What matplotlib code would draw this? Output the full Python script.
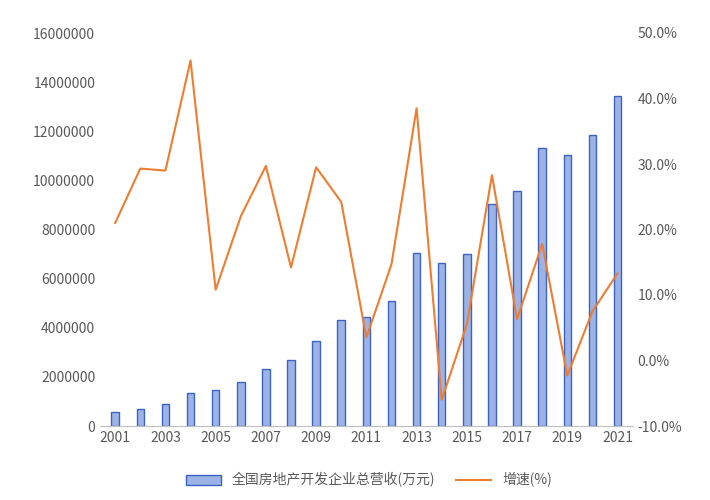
import matplotlib
matplotlib.use("Agg")
import matplotlib.pyplot as plt
from matplotlib.ticker import FuncFormatter

plt.rcParams['font.family'] = ['Noto Sans CJK SC']

years = list(range(2001, 2022))
revenue = [550000, 700000, 900000, 1350000, 1480000, 1800000, 2330000, 2680000, 3460000, 4300000,
           4430000, 5100000, 7050000, 6630000, 7000000, 9020000, 9580000, 11300000, 11020000, 11850000, 13450000]
growth = [21.0, 29.3, 29.0, 45.8, 10.8, 22.0, 29.7, 14.2, 29.5, 24.2,
          3.5, 14.7, 38.5, -6.0, 5.5, 28.3, 6.3, 17.8, -2.3, 7.5, 13.3]
bar_label = "全国房地产开发企业总营收(万元)"
line_label = "增速(%)"

fig = plt.figure(figsize=(7.1, 5.0), dpi=100)
ax = fig.add_axes([0.141, 0.148, 0.75, 0.786])
ax2 = ax.twinx()
bars = ax.bar(years, revenue, width=0.3, color="#9db3e6", edgecolor="#3a63c4", linewidth=1.0, label=bar_label, zorder=2)
ln, = ax2.plot(years, growth, color="#ed7d31", linewidth=1.5, label=line_label, zorder=3)
ax.set_zorder(1); ax2.set_zorder(2); ax2.patch.set_visible(False)

ax.set_ylim(0, 16000000)
ax.set_yticks(range(0, 16000001, 2000000))
ax.yaxis.set_major_formatter(FuncFormatter(lambda v, p: f"{int(v)}"))
ax2.set_ylim(-10, 50)
ax2.set_yticks(range(-10, 51, 10))
ax2.yaxis.set_major_formatter(FuncFormatter(lambda v, p: f"{v:.1f}%"))
ax.set_xlim(2000.4, 2021.6)
ax.set_xticks(years[::2])

for a in (ax, ax2):
    for s in a.spines.values():
        s.set_visible(False)
    a.tick_params(length=0, labelsize=10, colors="#595959")
ax.spines['bottom'].set_visible(True)
ax.spines['bottom'].set_color("#bfbfbf")

fig.legend([bars, ln], [bar_label, line_label], loc="lower center", bbox_to_anchor=(0.52, 0.0),
           ncol=2, frameon=False, fontsize=10, handlelength=2.5, columnspacing=1.5, labelcolor="#595959")
fig.savefig("out.png", dpi=100)
